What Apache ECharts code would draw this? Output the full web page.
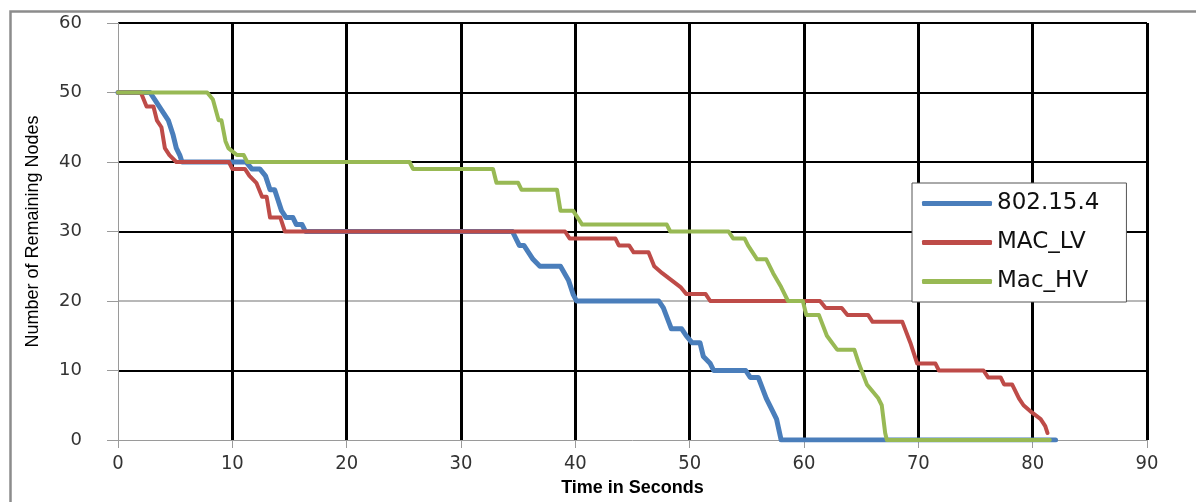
<!DOCTYPE html>
<html>
<head>
<meta charset="utf-8">
<script src="https://cdn.jsdelivr.net/npm/echarts@6/dist/echarts.min.js"></script>
<style>
html,body{margin:0;padding:0;background:#fff;}
#chart{width:1196px;height:502px;}
</style>
</head>
<body>
<div id="chart"></div>
<script>
const seriesNames = ['802.15.4', 'MAC_LV', 'Mac_HV'];
const xTicks = [0, 10, 20, 30, 40, 50, 60, 70, 80, 90];
const yTicks = [0, 10, 20, 30, 40, 50, 60];

const blueT = [0, 2.8, 3.2, 4.0, 4.4, 4.8, 5.1, 5.4, 5.6, 11.2, 11.7, 12.4, 12.9, 13.3, 13.7, 14.3, 14.7, 15.3, 15.6, 16.1, 16.4,
  34.5, 35.1, 35.5, 35.9, 36.3, 36.9, 38.7, 39.4, 39.8, 40.1, 47.3, 47.7, 48.4, 49.3, 49.7, 50.2, 50.9, 51.2, 51.8, 52.1,
  54.9, 55.3, 56.0, 56.7, 57.3, 57.6, 58.0, 82.0];
const blueV = [50, 50, 49, 47, 46, 44, 42, 41, 40, 40, 39, 39, 38, 36, 36, 33, 32, 32, 31, 31, 30,
  30, 28, 28, 27, 26, 25, 25, 23, 21, 20, 20, 19, 16, 16, 15, 14, 14, 12, 11, 10,
  10, 9, 9, 6, 4, 3, 0, 0];

const redT = [0, 2.0, 2.5, 3.1, 3.4, 3.8, 4.1, 4.5, 5.1, 9.7, 10.0, 11.1, 11.5, 12.1, 12.6, 13.0, 13.3, 14.2, 14.6,
  39.1, 39.5, 43.5, 43.8, 44.7, 45.1, 46.4, 46.9, 47.6, 48.4, 49.2, 49.7, 51.4, 51.8, 61.4, 61.9, 63.3, 63.8, 65.6, 66.0,
  68.6, 69.3, 69.9, 71.5, 71.8, 75.7, 76.1, 77.2, 77.5, 78.2, 78.8, 79.2, 79.9, 80.7, 81.1, 81.3];
const redV = [50, 50, 48, 48, 46, 45, 42, 41, 40, 40, 39, 39, 38, 37, 35, 35, 32, 32, 30,
  30, 29, 29, 28, 28, 27, 27, 25, 24, 23, 22, 21, 21, 20, 20, 19, 19, 18, 18, 17,
  17, 14, 11, 11, 10, 10, 9, 9, 8, 8, 6, 5, 4, 3, 2, 1];

const greenT = [0, 7.8, 8.3, 8.8, 9.05, 9.4, 9.65, 10.4, 11.0, 11.3, 25.5, 25.8, 32.8, 33.1, 35.0, 35.3, 38.4, 38.7, 39.8, 40.6,
  48.0, 48.3, 53.4, 53.8, 54.8, 55.1, 55.9, 56.7, 57.3, 58.0, 58.6, 59.9, 60.2, 61.3, 62.0, 62.9, 64.4, 64.8, 65.5, 66.5, 66.8,
  67.1, 67.25, 81.5];
const greenV = [50, 50, 49, 46, 46, 43, 42, 41, 41, 40, 40, 39, 39, 37, 37, 36, 36, 33, 33, 31,
  31, 30, 30, 29, 29, 28, 26, 26, 24, 22, 20, 20, 18, 18, 15, 13, 13, 11, 8, 6, 5,
  1, 0, 0];

const colors = ['#4a7ebb', '#be4b48', '#98b954'];
const widths = [5, 4, 4];

function pairs(t, v) { return t.map((x, i) => [x, v[i]]); }
const allData = [pairs(blueT, blueV), pairs(redT, redV), pairs(greenT, greenV)];

const chart = echarts.init(document.getElementById('chart'), null, {renderer: 'canvas'});
chart.setOption({
  animation: false,
  backgroundColor: '#fff',
  graphic: [{
    type: 'rect', left: 8, top: 9, silent: true,
    shape: {width: 1200, height: 510},
    style: {fill: 'none', stroke: '#8c8c8c', lineWidth: 2.5}
  }],
  grid: {left: 118, right: 49, top: 23, bottom: 60},
  xAxis: {
    type: 'value', min: 0, max: 90, interval: 10,
    axisLine: {show: true, onZero: false, lineStyle: {color: '#9a9a9a', width: 1}},
    axisTick: {show: true, length: 8, lineStyle: {color: '#9a9a9a'}},
    axisLabel: {margin: 14, fontSize: 20, color: '#333', fontFamily: "'Liberation Sans Narrow', 'DejaVu Sans Condensed', 'Liberation Sans'"},
    splitLine: {show: true, lineStyle: {color: ['transparent', '#000', '#000', '#000', '#000', '#000', '#000', '#000', '#000', '#000'], width: 3}},
    name: 'Time in Seconds', nameLocation: 'middle', nameGap: 39,
    nameTextStyle: {fontSize: 18, fontWeight: 'bold', color: '#000', fontFamily: "'Liberation Sans'"}
  },
  yAxis: {
    type: 'value', min: 0, max: 60, interval: 10,
    axisLine: {show: true, lineStyle: {color: '#9a9a9a', width: 1}},
    axisTick: {show: true, length: 11, lineStyle: {color: '#9a9a9a'}},
    axisLabel: {margin: 36, fontSize: 18, color: '#333', fontFamily: "'DejaVu Sans'"},
    splitLine: {show: true, lineStyle: {color: ['transparent', '#000', '#b8b8b8', '#000', '#000', '#000', '#000'], width: 2}},
    name: 'Number of Remaining Nodes', nameLocation: 'middle', nameGap: 76,
    nameTextStyle: {fontSize: 18, color: '#000', fontFamily: "'Liberation Sans'"}
  },
  legend: {
    orient: 'vertical', left: 912, top: 183,
    data: seriesNames,
    icon: 'roundRect',
    itemWidth: 70, itemHeight: 5, itemGap: 16,
    padding: [9, 27, 9, 10],
    backgroundColor: '#fff', borderColor: '#555', borderWidth: 1,
    textStyle: {fontSize: 23, color: '#111', fontFamily: "'DejaVu Sans'"}
  },
  series: seriesNames.map((n, i) => ({
    name: n, type: 'line', data: allData[i], symbol: 'none', z: 2 + i,
    lineStyle: {color: colors[i], width: widths[i], join: 'round', cap: 'round'},
    itemStyle: {color: colors[i]}
  }))
});
</script>
</body>
</html>
